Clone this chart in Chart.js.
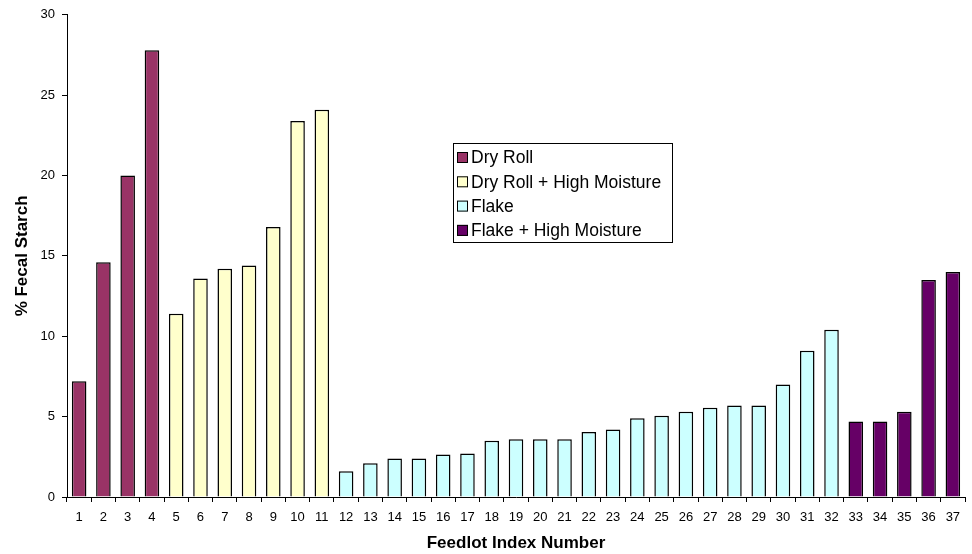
<!DOCTYPE html>
<html>
<head>
<meta charset="utf-8">
<script src="https://cdn.jsdelivr.net/npm/chart.js@4/dist/chart.umd.min.js"></script>
<style>
html,body{margin:0;padding:0;background:#fff;}
canvas{display:block;}
</style>
</head>
<body>
<canvas id="c" width="972" height="554"></canvas>
<script>
const categories = ['1','2','3','4','5','6','7','8','9','10','11','12','13','14','15','16','17','18','19','20','21','22','23','24','25','26','27','28','29','30','31','32','33','34','35','36','37'];
const seriesNames = ['Dry Roll', 'Dry Roll + High Moisture', 'Flake', 'Flake + High Moisture'];
const dryRoll = [7.2,14.6,20.0,27.8,null,null,null,null,null,null,null,null,null,null,null,null,null,null,null,null,null,null,null,null,null,null,null,null,null,null,null,null,null,null,null,null,null];
const dryRollHM = [null,null,null,null,11.4,13.6,14.2,14.4,16.8,23.4,24.1,null,null,null,null,null,null,null,null,null,null,null,null,null,null,null,null,null,null,null,null,null,null,null,null,null,null];
const flake = [null,null,null,null,null,null,null,null,null,null,null,1.6,2.1,2.4,2.4,2.65,2.7,3.5,3.6,3.6,3.6,4.05,4.2,4.9,5.05,5.3,5.55,5.7,5.7,7.0,9.1,10.4,null,null,null,null,null];
const flakeHM = [null,null,null,null,null,null,null,null,null,null,null,null,null,null,null,null,null,null,null,null,null,null,null,null,null,null,null,null,null,null,null,null,4.7,4.7,5.3,13.5,14.0];
const yTicks = [0,5,10,15,20,25,30];
const seriesColors = ['#993366', '#FFFFCC', '#CCFFFF', '#660066'];

const FONT = "'Liberation Sans', Arial, Helvetica, sans-serif";

const boxLegend = {
  id: 'boxLegend',
  afterDraw(chart, args, opts) {
    const ctx = chart.ctx;
    ctx.save();
    ctx.lineWidth = 1;
    ctx.strokeStyle = '#000';
    ctx.strokeRect(opts.left + 0.5, opts.top + 0.5, opts.width, opts.height);
    ctx.font = opts.fontSize + 'px ' + FONT;
    ctx.textBaseline = 'middle';
    ctx.textAlign = 'left';
    chart.data.datasets.forEach((ds, i) => {
      const cy = opts.top + opts.firstRow + i * opts.rowGap;
      ctx.fillStyle = ds.backgroundColor;
      ctx.fillRect(opts.left + opts.boxX, cy - opts.box / 2, opts.box, opts.box);
      ctx.strokeStyle = '#000';
      ctx.strokeRect(opts.left + opts.boxX + 0.5, cy - opts.box / 2 + 0.5, opts.box - 1, opts.box - 1);
      ctx.fillStyle = '#000';
      ctx.fillText(ds.label, opts.left + opts.textX, cy + 1);
    });
    ctx.restore();
  }
};

const datasets = [dryRoll, dryRollHM, flake, flakeHM].map((vals, i) => ({
  label: seriesNames[i],
  data: vals,
  backgroundColor: seriesColors[i],
  borderColor: '#000',
  borderWidth: 1.5,
  borderSkipped: 'bottom',
  categoryPercentage: 0.6,
  barPercentage: 1.0
}));

new Chart(document.getElementById('c'), {
  type: 'bar',
  data: { labels: categories, datasets },
  plugins: [boxLegend],
  options: {
    responsive: false,
    animation: false,
    devicePixelRatio: 1,
    layout: { padding: { left: 0, right: 7, top: 14, bottom: 0 } },
    plugins: {
      legend: { display: false },
      tooltip: { enabled: false },
      boxLegend: { left: 453, top: 143, width: 219, height: 99, firstRow: 14.5, rowGap: 24.3, box: 11, boxX: 4, textX: 18, fontSize: 17.5 }
    },
    scales: {
      x: {
        stacked: true,
        offset: true,
        grid: { display: true, offset: true, drawOnChartArea: false, drawTicks: true, tickLength: 5, color: '#000', lineWidth: 1 },
        border: { display: true, color: '#000', width: 1 },
        ticks: { color: '#000', font: { family: FONT, size: 13 }, padding: 8, maxRotation: 0, autoSkip: false },
        title: { display: true, text: 'Feedlot Index Number', color: '#000', font: { family: FONT, size: 17, weight: 'bold' }, padding: { top: 4, bottom: 0 } },
        afterFit(scale) { scale.height = 57; }
      },
      y: {
        stacked: true,
        min: 0,
        max: 30,
        afterBuildTicks(scale) { scale.ticks = yTicks.map(v => ({ value: v })); },
        grid: { display: true, drawOnChartArea: false, drawTicks: true, tickLength: 5, color: '#000', lineWidth: 1 },
        border: { display: true, color: '#000', width: 1 },
        ticks: { color: '#000', font: { family: FONT, size: 13 }, padding: 7 },
        title: { display: true, text: '% Fecal Starch', color: '#000', font: { family: FONT, size: 17, weight: 'bold' }, padding: { top: 12, bottom: 0 } },
        afterFit(scale) { scale.width = 67; }
      }
    }
  }
});
</script>
</body>
</html>
